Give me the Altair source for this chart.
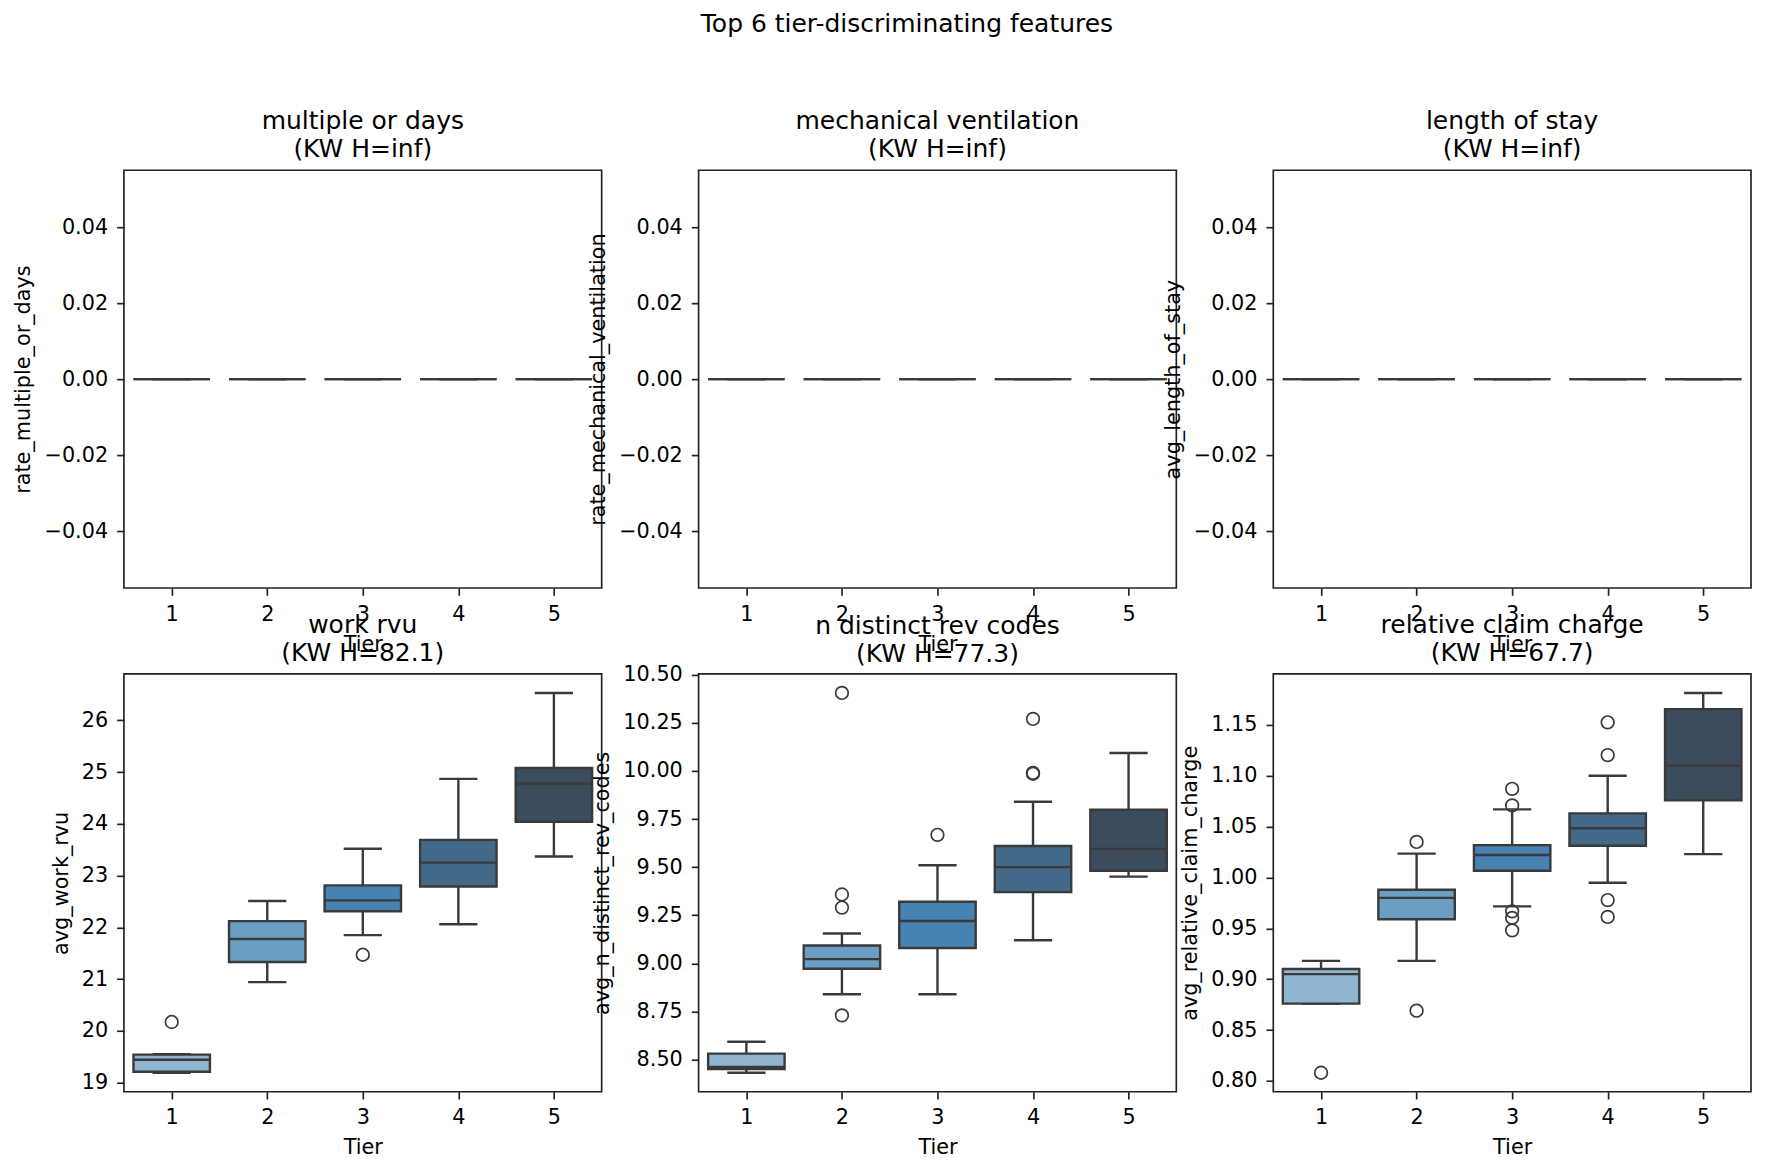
import altair as alt
import pandas as pd

tiers = [1, 2, 3, 4, 5]
tier_colors = ["#90b5d0", "#6a9fc3", "#4682b2", "#426987", "#3b4d5c"]

# ---- top row: all-zero features ----
zero = [0.0, 0.0, 0.0, 0.0, 0.0]

# ---- work rvu ----
wr_whislo = [19.19, 20.94, 21.85, 22.06, 23.37]
wr_q1 = [19.21, 21.33, 22.31, 22.79, 24.04]
wr_med = [19.44, 21.775, 22.52, 23.25, 24.775]
wr_q3 = [19.54, 22.12, 22.81, 23.69, 25.08]
wr_whishi = [19.55, 22.51, 23.52, 24.87, 26.53]
wr_out_tier = [1, 3]
wr_out_val = [20.17, 21.47]

# ---- n distinct rev codes ----
rc_whislo = [8.432, 8.84, 8.84, 9.12, 9.451]
rc_q1 = [8.451, 8.972, 9.08, 9.37, 9.481]
rc_med = [8.462, 9.022, 9.22, 9.50, 9.595]
rc_q3 = [8.531, 9.093, 9.32, 9.61, 9.798]
rc_whishi = [8.593, 9.155, 9.51, 9.84, 10.093]
rc_out_tier = [2, 2, 2, 2, 3, 4, 4, 4]
rc_out_val = [10.405, 9.358, 9.29, 8.73, 9.668, 10.27, 9.99, 9.985]

# ---- relative claim charge ----
cc_whislo = [0.876, 0.918, 0.9716, 0.9948, 1.023]
cc_q1 = [0.876, 0.959, 1.0067, 1.0312, 1.0758]
cc_med = [0.905, 0.980, 1.0221, 1.0484, 1.110]
cc_q3 = [0.910, 0.988, 1.0318, 1.0631, 1.1656]
cc_whishi = [0.918, 1.0235, 1.067, 1.100, 1.1815]
cc_out_tier = [1, 2, 2, 3, 3, 3, 3, 3, 4, 4, 4, 4]
cc_out_val = [0.808, 1.035, 0.869, 1.0872, 1.0709, 0.9667, 0.9603, 0.948,
              1.1526, 1.1204, 0.9778, 0.9612]

zero_ticks = [-0.04, -0.02, 0.0, 0.02, 0.04]
wr_ticks = [19, 20, 21, 22, 23, 24, 25, 26]
rc_ticks = [8.50, 8.75, 9.00, 9.25, 9.50, 9.75, 10.00, 10.25, 10.50]
cc_ticks = [0.80, 0.85, 0.90, 0.95, 1.00, 1.05, 1.10, 1.15]

EDGE = "#3a3a3a"
FONT = "DejaVu Sans"
W, H = 478, 418


def domain_of(lo_list, hi_list, outs):
    vals = list(lo_list) + list(hi_list) + list(outs)
    lo, hi = min(vals), max(vals)
    if hi == lo:
        return [lo - 0.055, hi + 0.055]
    pad = 0.05 * (hi - lo)
    return [lo - pad, hi + pad]


def panel(name, kw, ylabel, whislo, q1, med, q3, whishi, out_t, out_v, yticks, yfmt, toff=8):
    dom = domain_of(whislo, whishi, out_v)
    box = pd.DataFrame({"tier": tiers, "whislo": whislo, "q1": q1, "med": med,
                        "q3": q3, "whishi": whishi})
    xs = alt.Scale(domain=[0.5, 5.5], nice=False, zero=False)
    ys = alt.Scale(domain=dom, nice=False, zero=False)
    xax = alt.Axis(values=tiers, format="d", title="Tier", labelAngle=0, grid=False)
    yax = alt.Axis(values=yticks, format=yfmt, title=ylabel, grid=False)
    base = alt.Chart(box).transform_calculate(
        xl="datum.tier - 0.4", xr="datum.tier + 0.4",
        cl="datum.tier - 0.2", cr="datum.tier + 0.2")

    def X(f):
        return alt.X(f, type="quantitative", scale=xs, axis=xax)

    def Y(f):
        return alt.Y(f, type="quantitative", scale=ys, axis=yax)

    lw = 2.4
    wl = base.mark_rule(color=EDGE, strokeWidth=lw).encode(x=X("tier"), y=Y("whislo"), y2="q1")
    wh = base.mark_rule(color=EDGE, strokeWidth=lw).encode(x=X("tier"), y=Y("q3"), y2="whishi")
    capl = base.mark_rule(color=EDGE, strokeWidth=lw).encode(x=X("cl"), x2="cr", y=Y("whislo"))
    caph = base.mark_rule(color=EDGE, strokeWidth=lw).encode(x=X("cl"), x2="cr", y=Y("whishi"))
    bx = base.mark_bar(stroke=EDGE, strokeWidth=lw).encode(
        x=X("xl"), x2="xr", y=Y("q1"), y2="q3",
        color=alt.Color("tier:O", scale=alt.Scale(domain=tiers, range=tier_colors), legend=None))
    md = base.mark_rule(color=EDGE, strokeWidth=lw).encode(x=X("xl"), x2="xr", y=Y("med"))
    layers = [wl, wh, capl, caph, bx, md]
    if out_t:
        od = pd.DataFrame({"tier": out_t, "val": out_v})
        pts = alt.Chart(od).mark_point(shape="circle", filled=False, size=160,
                                       stroke=EDGE, strokeWidth=1.7, opacity=1).encode(
            x=X("tier"), y=Y("val"))
        layers.append(pts)
    return alt.layer(*layers).properties(
        width=W, height=H,
        title=alt.TitleParams(text=[name, f"(KW H={kw})"], fontSize=25, font=FONT,
                              fontWeight="normal", color="black", anchor="middle",
                              offset=toff, lineHeight=28))


p1 = panel("multiple or days", "inf", "rate_multiple_or_days", zero, zero, zero, zero, zero, [], [], zero_ticks, ".2f")
p2 = panel("mechanical ventilation", "inf", "rate_mechanical_ventilation", zero, zero, zero, zero, zero, [], [], zero_ticks, ".2f")
p3 = panel("length of stay", "inf", "avg_length_of_stay", zero, zero, zero, zero, zero, [], [], zero_ticks, ".2f")
p4 = panel("work rvu", "82.1", "avg_work_rvu", wr_whislo, wr_q1, wr_med, wr_q3, wr_whishi, wr_out_tier, wr_out_val, wr_ticks, "d")
p5 = panel("n distinct rev codes", "77.3", "avg_n_distinct_rev_codes", rc_whislo, rc_q1, rc_med, rc_q3, rc_whishi, rc_out_tier, rc_out_val, rc_ticks, ".2f", toff=-3)
p6 = panel("relative claim charge", "67.7", "avg_relative_claim_charge", cc_whislo, cc_q1, cc_med, cc_q3, cc_whishi, cc_out_tier, cc_out_val, cc_ticks, ".2f")

chart = alt.concat(p1, p2, p3, p4, p5, p6, columns=3,
                   spacing={"row": 86, "column": 97}, bounds="flush").properties(
    title=alt.TitleParams("Top 6 tier-discriminating features", fontSize=25, font=FONT,
                          fontWeight="normal", color="black", anchor="middle", offset=71,
                          dx=25),
    padding={"left": 4, "top": 4, "right": 5, "bottom": 5},
    background="white",
).configure_view(
    stroke="#222222", strokeWidth=1.67
).configure_axis(
    domain=False, grid=False, ticks=True, tickSize=7.3, tickWidth=1.67, tickColor="#222222",
    labelFont=FONT, labelFontSize=20.8, labelColor="black", labelPadding=9,
    titleFont=FONT, titleFontSize=20.8, titleFontWeight="normal", titleColor="black",
    titlePadding=10,
)

chart.save("out.html", embed_options={"renderer": "svg", "actions": False})
